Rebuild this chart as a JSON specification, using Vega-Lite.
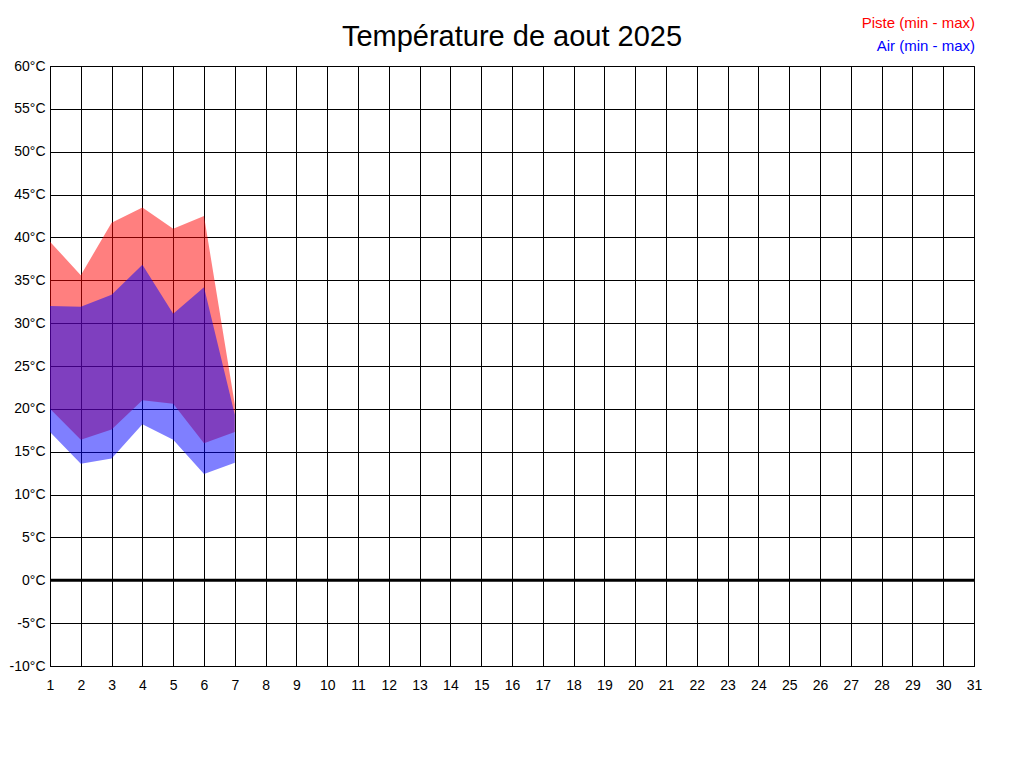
{
  "$schema": "https://vega.github.io/schema/vega-lite/v6.json",
  "width": 924,
  "height": 600,
  "autosize": {"type": "none"},
  "padding": {"left": 50, "top": 66, "right": 50, "bottom": 102},
  "background": "white",
  "config": {
    "font": "Liberation Sans",
    "view": {"stroke": "black", "strokeWidth": 1},
    "axis": {
      "labelFont": "Liberation Sans",
      "labelFontSize": 14,
      "labelColor": "black",
      "gridColor": "black",
      "gridOpacity": 1,
      "gridWidth": 1,
      "domainColor": "black",
      "ticks": false,
      "title": null
    }
  },
  "title": {
    "text": "Température de aout 2025",
    "fontSize": 29,
    "fontWeight": "normal",
    "font": "Liberation Sans",
    "color": "black",
    "anchor": "middle",
    "frame": "group",
    "baseline": "alphabetic",
    "offset": -60
  },
  "datasets": {
    "temps": [
      {"day": 1, "series": "Piste (min - max)", "min": 20.0, "max": 39.5},
      {"day": 2, "series": "Piste (min - max)", "min": 16.4, "max": 35.6},
      {"day": 3, "series": "Piste (min - max)", "min": 17.6, "max": 41.7},
      {"day": 4, "series": "Piste (min - max)", "min": 21.0, "max": 43.5},
      {"day": 5, "series": "Piste (min - max)", "min": 20.6, "max": 41.0},
      {"day": 6, "series": "Piste (min - max)", "min": 16.0, "max": 42.5},
      {"day": 7, "series": "Piste (min - max)", "min": 17.3, "max": 20.5},
      {"day": 1, "series": "Air (min - max)", "min": 17.3, "max": 32.0},
      {"day": 2, "series": "Air (min - max)", "min": 13.6, "max": 31.9},
      {"day": 3, "series": "Air (min - max)", "min": 14.2, "max": 33.3},
      {"day": 4, "series": "Air (min - max)", "min": 18.2, "max": 36.8},
      {"day": 5, "series": "Air (min - max)", "min": 16.4, "max": 31.1},
      {"day": 6, "series": "Air (min - max)", "min": 12.4, "max": 34.2},
      {"day": 7, "series": "Air (min - max)", "min": 13.7, "max": 19.3}
    ],
    "zero": [{"t": 0}]
  },
  "layer": [
    {
      "data": {"name": "temps"},
      "transform": [{"filter": "datum.series === 'Piste (min - max)'"}],
      "mark": {"type": "area", "opacity": 0.5, "interpolate": "linear"},
      "encoding": {
        "x": {
          "field": "day",
          "type": "quantitative",
          "scale": {"domain": [1, 31], "nice": false, "zero": false},
          "axis": {
            "values": [1, 2, 3, 4, 5, 6, 7, 8, 9, 10, 11, 12, 13, 14, 15, 16, 17, 18, 19, 20, 21, 22, 23, 24, 25, 26, 27, 28, 29, 30, 31],
            "labelPadding": 12,
            "labelFlush": false,
            "labelOverlap": false
          }
        },
        "y": {
          "field": "min",
          "type": "quantitative",
          "scale": {"domain": [-10, 60], "nice": false, "zero": false},
          "axis": {
            "values": [-10, -5, 0, 5, 10, 15, 20, 25, 30, 35, 40, 45, 50, 55, 60],
            "labelExpr": "datum.value + '°C'",
            "labelPadding": 5,
            "labelOverlap": false
          }
        },
        "y2": {"field": "max"},
        "color": {
          "field": "series",
          "type": "nominal",
          "scale": {"domain": ["Piste (min - max)", "Air (min - max)"], "range": ["#ff0000", "#0000ff"]},
          "legend": {
            "title": null,
            "orient": "none",
            "legendX": 910,
            "legendY": -51,
            "symbolSize": 0,
            "symbolOpacity": 0,
            "symbolStrokeWidth": 0,
            "labelFontSize": 15,
            "labelFont": "Liberation Sans",
            "labelAlign": "right",
            "labelOffset": 0,
            "rowPadding": 7,
            "encode": {
              "labels": {
                "update": {
                  "fill": {"signal": "datum.value === 'Piste (min - max)' ? '#ff0000' : '#0000ff'"}
                }
              }
            }
          }
        }
      }
    },
    {
      "data": {"name": "temps"},
      "transform": [{"filter": "datum.series === 'Air (min - max)'"}],
      "mark": {"type": "area", "opacity": 0.5, "interpolate": "linear"},
      "encoding": {
        "x": {
          "field": "day",
          "type": "quantitative",
          "scale": {"domain": [1, 31], "nice": false, "zero": false},
          "axis": {
            "values": [1, 2, 3, 4, 5, 6, 7, 8, 9, 10, 11, 12, 13, 14, 15, 16, 17, 18, 19, 20, 21, 22, 23, 24, 25, 26, 27, 28, 29, 30, 31],
            "labelPadding": 12,
            "labelFlush": false,
            "labelOverlap": false
          }
        },
        "y": {
          "field": "min",
          "type": "quantitative",
          "scale": {"domain": [-10, 60], "nice": false, "zero": false},
          "axis": {
            "values": [-10, -5, 0, 5, 10, 15, 20, 25, 30, 35, 40, 45, 50, 55, 60],
            "labelExpr": "datum.value + '°C'",
            "labelPadding": 5,
            "labelOverlap": false
          }
        },
        "y2": {"field": "max"},
        "color": {"field": "series", "type": "nominal"}
      }
    },
    {
      "data": {"name": "zero"},
      "mark": {"type": "rule", "color": "black", "strokeWidth": 3},
      "encoding": {
        "y": {"field": "t", "type": "quantitative"}
      }
    }
  ]
}
